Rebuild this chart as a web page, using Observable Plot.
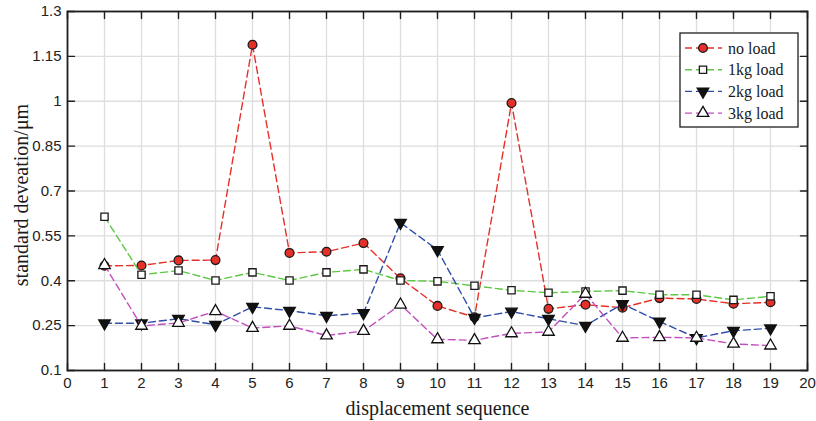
<!DOCTYPE html>
<html>
<head>
<meta charset="utf-8">
<script src="https://cdn.jsdelivr.net/npm/d3@7"></script>
<script src="https://cdn.jsdelivr.net/npm/@observablehq/plot@0.6"></script>
<style>
  html, body { margin: 0; padding: 0; background: #fff; }
  #chart { position: relative; width: 816px; height: 421px; }
</style>
</head>
<body>
<div id="chart"></div>
<script>
// ---- data ----
const sequence = [1,2,3,4,5,6,7,8,9,10,11,12,13,14,15,16,17,18,19];
const noLoad = [0.450,0.451,0.468,0.469,1.189,0.493,0.497,0.526,0.408,0.316,0.278,0.994,0.306,0.320,0.310,0.342,0.339,0.323,0.328];
const load1kg = [0.614,0.420,0.434,0.401,0.428,0.401,0.428,0.438,0.401,0.398,0.383,0.368,0.360,0.364,0.367,0.353,0.353,0.336,0.348];
const load2kg = [0.258,0.258,0.273,0.253,0.313,0.300,0.283,0.292,0.594,0.503,0.276,0.297,0.273,0.250,0.322,0.264,0.209,0.233,0.241];
const load3kg = [0.452,0.249,0.259,0.298,0.242,0.249,0.217,0.232,0.320,0.204,0.201,0.224,0.229,0.356,0.209,0.211,0.209,0.189,0.183];
const seriesNames = ["no load","1kg load","2kg load","3kg load"];
const seriesColors = ["#e5302a","#5cc843","#2f4ea8","#c24fc0"];
const xTicks = [0,1,2,3,4,5,6,7,8,9,10,11,12,13,14,15,16,17,18,19,20];
const yTicks = [0.1,0.25,0.4,0.55,0.7,0.85,1,1.15,1.3];
const xLabel = "displacement sequence";
const yLabel = "standard deveation/\u03bcm";

const seriesValues = [noLoad, load1kg, load2kg, load3kg];
const markerStyle = [
  {symbol: "circle", fill: "#e5302a", stroke: "#1a1a1a", r: 4.4, rotate: 0},
  {symbol: "square", fill: "#ffffff", stroke: "#1a1a1a", r: 4.1, rotate: 0},
  {symbol: "triangle", fill: "#111111", stroke: "#111111", r: 4.3, rotate: 180},
  {symbol: "triangle", fill: "#ffffff", stroke: "#111111", r: 4.3, rotate: 0}
];

const tickShape = { draw(context, l) { context.moveTo(0, 0); context.lineTo(0, -l); } };
const axisColor = "#1f1f1f";

const marks = [
  Plot.gridX(xTicks, {stroke: "#dedede", strokeOpacity: 1, strokeWidth: 1.3}),
  Plot.gridY(yTicks, {stroke: "#dedede", strokeOpacity: 1, strokeWidth: 1.3}),
  Plot.axisX({ticks: xTicks, tickSize: 0, tickPadding: 7, tickFormat: d => String(d), label: null}),
  Plot.axisY({ticks: yTicks, tickSize: 0, tickPadding: 6, tickFormat: d => String(d), label: null}),
];

seriesValues.forEach((vals, i) => {
  const rows = sequence.map((s, j) => ({x: s, y: vals[j]}));
  const m = markerStyle[i];
  marks.push(Plot.line(rows, {x: "x", y: "y", stroke: seriesColors[i], strokeWidth: 1.4, strokeDasharray: "7,4"}));
  marks.push(Plot.dot(rows, {x: "x", y: "y", symbol: m.symbol, fill: m.fill, stroke: m.stroke, strokeWidth: 1.3, r: m.r, rotate: m.rotate}));
});

marks.push(
  Plot.vector(xTicks, {x: d => d, frameAnchor: "bottom", anchor: "start", length: 7, rotate: 0, shape: tickShape, stroke: axisColor, strokeWidth: 1.4}),
  Plot.vector(xTicks, {x: d => d, frameAnchor: "top", anchor: "start", length: 7, rotate: 180, shape: tickShape, stroke: axisColor, strokeWidth: 1.4}),
  Plot.vector(yTicks, {y: d => d, frameAnchor: "left", anchor: "start", length: 7, rotate: 90, shape: tickShape, stroke: axisColor, strokeWidth: 1.4}),
  Plot.vector(yTicks, {y: d => d, frameAnchor: "right", anchor: "start", length: 7, rotate: -90, shape: tickShape, stroke: axisColor, strokeWidth: 1.4}),
  Plot.frame({stroke: axisColor, strokeWidth: 1.8}),
  Plot.text([xLabel], {frameAnchor: "bottom", dy: 38, textAnchor: "middle", lineAnchor: "middle", text: d => d, fontFamily: "Liberation Serif", fontSize: 20, fill: "#1a1a1a"}),
  Plot.text([yLabel], {frameAnchor: "left", dx: -46, dy: 4, rotate: -90, textAnchor: "middle", lineAnchor: "middle", text: d => d, fontFamily: "Liberation Serif", fontSize: 20, fill: "#1a1a1a"})
);

const plot = Plot.plot({
  width: 816,
  height: 421,
  marginLeft: 67,
  marginRight: 9,
  marginTop: 11,
  marginBottom: 51,
  x: {domain: [0, 20]},
  y: {domain: [0.1, 1.3]},
  style: {fontFamily: "Liberation Sans, Arial, sans-serif", fontSize: "15px", color: "#222", background: "#fff", overflow: "visible"},
  marks
});

// ---- legend (inside the plot area, top right) ----
const svg = d3.select(plot);
const lg = svg.append("g").attr("class", "legend").attr("text-anchor", "start");
const lx = 680, ly = 33, lw = 118, lh = 94;
lg.append("rect").attr("x", lx).attr("y", ly).attr("width", lw).attr("height", lh)
  .attr("fill", "#fff").attr("stroke", axisColor).attr("stroke-width", 1.3);
seriesNames.forEach((name, i) => {
  const cy = ly + 15 + i * 21.7;
  const m = markerStyle[i];
  lg.append("line").attr("x1", lx + 5).attr("x2", lx + 42).attr("y1", cy).attr("y2", cy)
    .attr("stroke", seriesColors[i]).attr("stroke-width", 1.4).attr("stroke-dasharray", "7,4");
  const sym = m.symbol === "circle" ? d3.symbolCircle : m.symbol === "square" ? d3.symbolSquare : d3.symbolTriangle;
  lg.append("path").attr("d", d3.symbol(sym, Math.PI * m.r * m.r)())
    .attr("transform", `translate(${lx + 23},${cy}) rotate(${m.rotate})`)
    .attr("fill", m.fill).attr("stroke", m.stroke).attr("stroke-width", 1.3);
  lg.append("text").attr("x", lx + 48).attr("y", cy).attr("dy", "0.35em")
    .attr("text-anchor", "start")
    .attr("font-family", "Liberation Serif").attr("font-size", 16).attr("fill", "#1a1a1a")
    .text(name);
});

document.getElementById("chart").appendChild(plot);
</script>
</body>
</html>
